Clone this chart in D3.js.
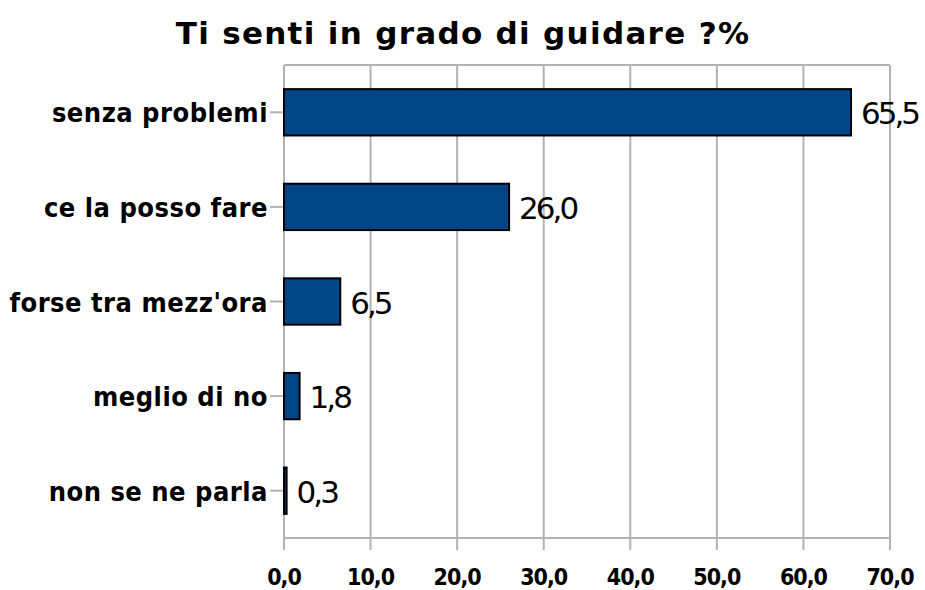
<!DOCTYPE html>
<html>
<head>
<meta charset="utf-8">
<script src="https://cdn.jsdelivr.net/npm/d3@7"></script>
<style>
  body { margin: 0; background: #fff; }
  svg { display: block; }
</style>
</head>
<body>
<svg width="925" height="590"></svg>
<script>
const title = "Ti senti in grado di guidare ?%";
const categories = ["senza problemi", "ce la posso fare", "forse tra mezz'ora", "meglio di no", "non se ne parla"];
const values = [65.5, 26.0, 6.5, 1.8, 0.3];
const xTicks = [0, 10, 20, 30, 40, 50, 60, 70];

const fmt = v => d3.format(".1f")(v).replace(".", ",");

const svg = d3.select("svg");
const m = { left: 284, right: 890, top: 65, bottom: 538 };

const x = d3.scaleLinear().domain([0, 70]).range([m.left, m.right]);
const y = d3.scaleBand().domain(categories).range([m.top, m.bottom]).paddingInner(0.51).paddingOuter(0.255);

svg.append("text")
  .attr("x", 463).attr("y", 44)
  .attr("text-anchor", "middle")
  .style("font", "bold 31px 'DejaVu Sans'")
  .style("letter-spacing", "1.3px")
  .text(title);

// grid
svg.append("g").selectAll("line").data(xTicks).join("line")
  .attr("x1", d => x(d)).attr("x2", d => x(d))
  .attr("y1", m.top).attr("y2", m.bottom + 12)
  .attr("stroke", "#b3b3b3").attr("stroke-width", 2);

svg.append("line")
  .attr("x1", m.left).attr("x2", m.right)
  .attr("y1", m.bottom).attr("y2", m.bottom)
  .attr("stroke", "#b3b3b3").attr("stroke-width", 2);
svg.append("line")
  .attr("x1", m.left).attr("x2", m.right)
  .attr("y1", m.top).attr("y2", m.top)
  .attr("stroke", "#b3b3b3").attr("stroke-width", 2);

// category ticks
svg.append("g").selectAll("line").data(categories).join("line")
  .attr("x1", m.left - 14).attr("x2", m.left)
  .attr("y1", d => y(d) + y.bandwidth() / 2).attr("y2", d => y(d) + y.bandwidth() / 2)
  .attr("stroke", "#b3b3b3").attr("stroke-width", 2);

// x tick labels
svg.append("g").selectAll("text").data(xTicks).join("text")
  .attr("x", d => x(d)).attr("y", 585)
  .attr("text-anchor", "middle")
  .style("font", "bold 23px 'DejaVu Sans Condensed'")
  .style("letter-spacing", "-1px")
  .text(d => fmt(d));

// category labels
svg.append("g").selectAll("text").data(categories).join("text")
  .attr("x", m.left - 16).attr("y", d => y(d) + y.bandwidth() / 2 + 10)
  .attr("text-anchor", "end")
  .style("font", "bold 27px 'DejaVu Sans Condensed'")
  .style("letter-spacing", "0.5px")
  .text(d => d);

// bars
svg.append("g").selectAll("rect").data(values).join("rect")
  .attr("x", x(0))
  .attr("y", (d, i) => y(categories[i]))
  .attr("width", d => x(d) - x(0))
  .attr("height", y.bandwidth())
  .attr("fill", "#004586")
  .attr("stroke", "#000").attr("stroke-width", 2);

// value labels
svg.append("g").selectAll("text").data(values).join("text")
  .attr("x", d => x(d) + 10)
  .attr("y", (d, i) => y(categories[i]) + y.bandwidth() / 2 + 12)
  .style("font", "31px 'DejaVu Sans'")
  .style("letter-spacing", "-3px")
  .text(d => fmt(d));
</script>
</body>
</html>
